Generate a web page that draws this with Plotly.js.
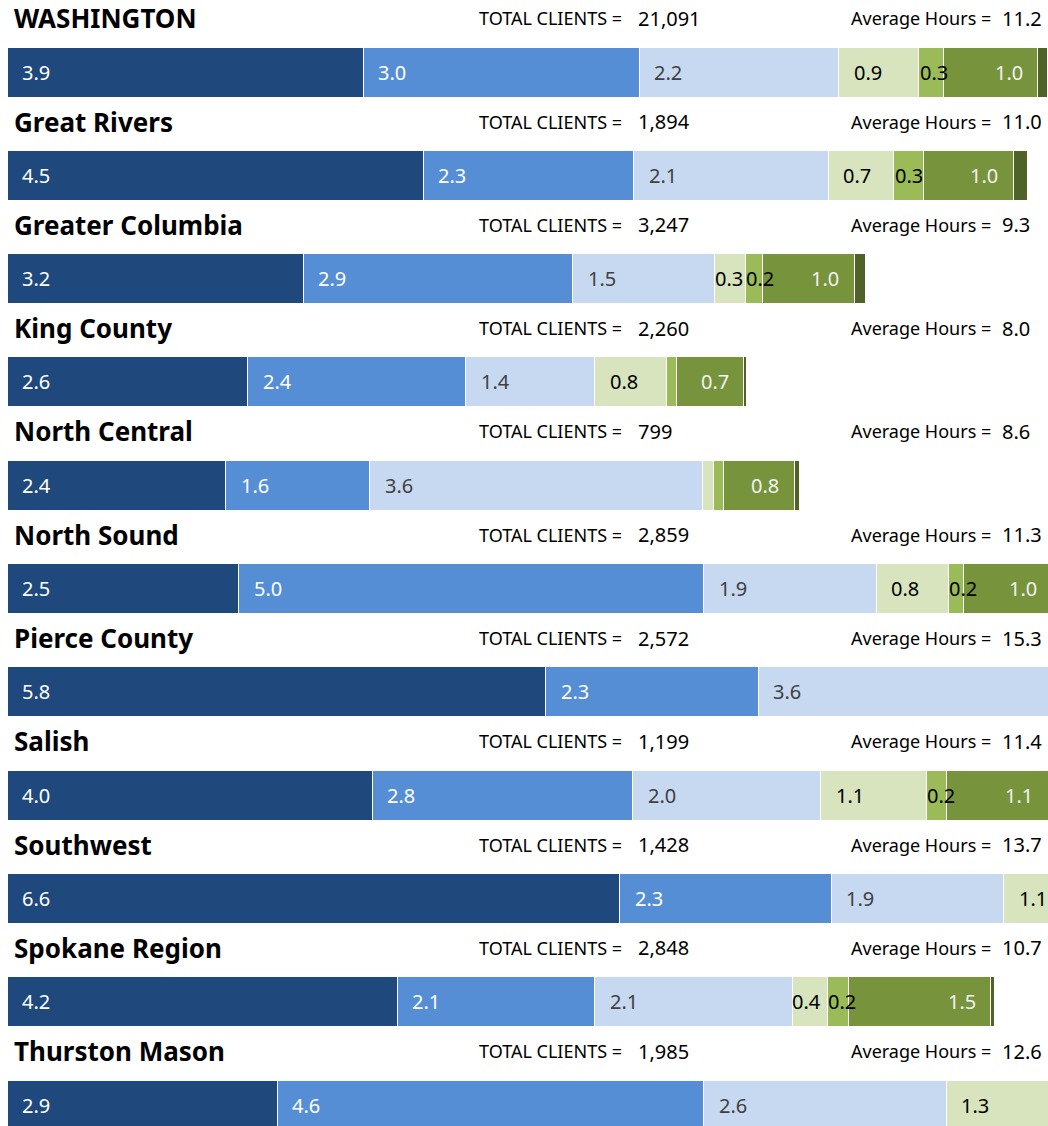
<!DOCTYPE html>
<html>
<head>
<meta charset="utf-8">
<script src="https://cdn.plot.ly/plotly-3.0.1.min.js"></script>
<style>
html,body{margin:0;padding:0;background:#fff;}
#chart{width:1048px;height:1126px;}
</style>
</head>
<body>
<div id="chart"></div>
<script>
// ---- data ----
const regions = ['WASHINGTON','Great Rivers','Greater Columbia','King County','North Central','North Sound','Pierce County','Salish','Southwest','Spokane Region','Thurston Mason'];
const totalClients = ['21,091','1,894','3,247','2,260','799','2,859','2,572','1,199','1,428','2,848','1,985'];
const averageHours = ['11.2','11.0','9.3','8.0','8.6','11.3','15.3','11.4','13.7','10.7','12.6'];

const seg1 = [3.86, 4.51, 3.21, 2.61, 2.37, 2.51, 5.84, 3.96, 6.64, 4.23, 2.93];
const seg2 = [2.99, 2.28, 2.92, 2.36, 1.56, 5.04, 2.30, 2.82, 2.29, 2.14, 4.62];
const seg3 = [2.16, 2.11, 1.54, 1.40, 3.61, 1.87, 3.60, 2.04, 1.87, 2.14, 2.63];
const seg4 = [0.87, 0.71, 0.33, 0.78, 0.12, 0.78, null, 1.14, 1.10, 0.38, 1.30];
const seg5 = [0.27, 0.32, 0.19, 0.105, 0.10, 0.16, null, 0.22, null, 0.23, null];
const seg6 = [1.02, 0.975, 0.99, 0.73, 0.77, 0.96, null, 1.10, null, 1.54, null];
const seg7 = [0.10, 0.155, 0.12, 0.03, 0.055, null, null, null, null, 0.045, null];

// ---- styles ----
const series = [seg1, seg2, seg3, seg4, seg5, seg6, seg7];
const colors = ['#1F497D', '#558ED5', '#C6D9F1', '#D7E4BD', '#9BBB59', '#77933C', '#4F6228'];
const labelColors = ['#ffffff', '#ffffff', '#404040', '#000000', '#000000', '#f2f2f2', null];
const FONT = "'Noto Sans', 'Open Sans', sans-serif";

const W = 1048, H = 1126, ML = 7;
const plotW = W - ML;
const xMax = 11.28;
const pxU = xMax / plotW;          // data units per pixel
const rowPitch = 103.3;
const yTop = -72 / rowPitch;
const yBot = yTop + H / rowPitch;

const traces = series.map((vals, k) => ({
  type: 'bar',
  orientation: 'h',
  y: regions,
  x: vals,
  marker: {color: colors[k], line: {color: '#ffffff', width: 1}},
  hoverinfo: 'skip',
  showlegend: false
}));

const annotations = [];
// bar value labels
regions.forEach((r, i) => {
  let start = 0;
  series.forEach((vals, k) => {
    const v = vals[i];
    if (v == null) return;
    const end = start + v;
    if (labelColors[k] && v >= 0.15) {
      let x, anchor;
      if (k <= 3) {
        x = v >= 0.5 ? start + 13 * pxU : start - 2 * pxU;
        anchor = 'left';
      } else if (k === 4) {
        x = start - 1 * pxU;
        anchor = 'left';
      } else {
        x = end - 13 * pxU;
        anchor = 'right';
      }
      annotations.push({
        x: x, y: i, xref: 'x', yref: 'y', xanchor: anchor, yanchor: 'middle',
        text: v.toFixed(1), showarrow: false,
        font: {family: FONT, size: 20, color: labelColors[k]}
      });
    }
    start = end;
  });
});

// row headers
const px = p => (p - ML) / plotW;
regions.forEach((r, i) => {
  const yy = i - 0.52;
  annotations.push({x: px(12), y: yy, xref: 'paper', yref: 'y', xanchor: 'left', yanchor: 'middle',
    text: '<b>' + r + '</b>', showarrow: false, font: {family: FONT, size: 26, color: '#000'}});
  annotations.push({x: px(477), y: yy, xref: 'paper', yref: 'y', xanchor: 'left', yanchor: 'middle',
    text: 'TOTAL CLIENTS =', showarrow: false, font: {family: FONT, size: 18, color: '#000'}});
  annotations.push({x: px(636), y: yy, xref: 'paper', yref: 'y', xanchor: 'left', yanchor: 'middle',
    text: totalClients[i], showarrow: false, font: {family: FONT, size: 20, color: '#000'}});
  annotations.push({x: px(849), y: yy, xref: 'paper', yref: 'y', xanchor: 'left', yanchor: 'middle',
    text: 'Average Hours =', showarrow: false, font: {family: FONT, size: 18, color: '#000'}});
  annotations.push({x: px(1000), y: yy, xref: 'paper', yref: 'y', xanchor: 'left', yanchor: 'middle',
    text: averageHours[i], showarrow: false, font: {family: FONT, size: 20, color: '#000'}});
});

const layout = {
  width: W, height: H,
  margin: {l: ML, r: 0, t: 0, b: 0, pad: 0},
  paper_bgcolor: '#ffffff', plot_bgcolor: '#ffffff',
  barmode: 'stack',
  bargap: 1 - 50 / rowPitch,
  showlegend: false,
  font: {family: FONT},
  xaxis: {range: [0, xMax], visible: false, fixedrange: true},
  yaxis: {type: 'category', range: [yBot, yTop], visible: false, fixedrange: true},
  annotations: annotations
};

Plotly.newPlot('chart', traces, layout, {displayModeBar: false, staticPlot: true});
</script>
</body>
</html>
